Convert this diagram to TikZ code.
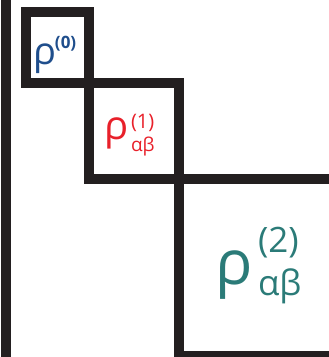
\documentclass[tikz,border=0pt]{standalone}
\usepackage{fontspec}
\setmainfont{Open Sans}
\definecolor{barc}{HTML}{231F20}
\definecolor{blueA}{HTML}{1F4E8C}
\definecolor{redA}{HTML}{E8202A}
\definecolor{tealA}{HTML}{2B7B78}
\begin{document}
\begin{tikzpicture}[x=1pt,y=-1pt,
  barline/.style={line width=10pt, draw=barc},
  lbl/.style={anchor=base west, inner sep=0pt, outer sep=0pt},
  sup/.style={lbl, text depth=0pt},
  sub/.style={lbl, text height=0.7em}]
\useasboundingbox (0,0) rectangle (329,357);
\clip (0,0) rectangle (329,357);
\coordinate (top) at (6,-10);
\coordinate (bot) at (6,370);
\coordinate (b1a) at (26,12);
\coordinate (b1b) at (89,83);
\coordinate (b2b) at (179,179);
\coordinate (b3b) at (345,356);
\draw[barline] (top) -- (bot);
\draw[barline] (b1a) rectangle (b1b);
\draw[barline] (b1b) rectangle (b2b);
\draw[barline] (b2b) rectangle (b3b);
% labels
\node[lbl, text=blueA, font=\fontsize{38}{38}\selectfont] (r0) at (34,64) {ρ};
\node[sup, text=blueA, font=\bfseries\fontsize{17}{17}\selectfont] (r0s) at (55,48) {(0)};
\node[lbl, text=redA, font=\fontsize{40}{40}\selectfont] (r1) at (104,139) {ρ};
\node[sup, text=redA, font=\fontsize{20}{20}\selectfont] (r1s) at (131,128) {(1)};
\node[sub, text=redA, font=\fontsize{19}{19}\selectfont] (r1b) at (131,151) {αβ};
\node[lbl, text=tealA, font=\fontsize{62}{62}\selectfont] (r2) at (215,284) {ρ};
\node[sup, text=tealA, font=\fontsize{35}{35}\selectfont] (r2s) at (258,252) {(2)};
\node[sub, text=tealA, font=\fontsize{35}{35}\selectfont] (r2b) at (258,295) {αβ};
\end{tikzpicture}
\end{document}
